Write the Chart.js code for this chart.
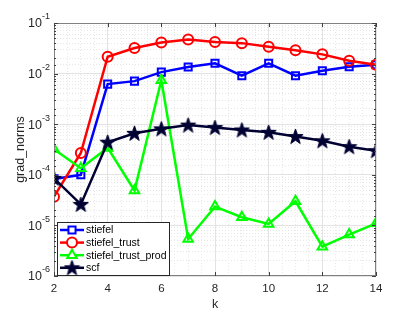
<!DOCTYPE html>
<html>
<head>
<meta charset="utf-8">
<script src="https://cdn.jsdelivr.net/npm/chart.js@4.4.0/dist/chart.umd.min.js"></script>
<style>
html,body{margin:0;padding:0;background:#fff;}
#wrap{width:415px;height:312px;}
</style>
</head>
<body>
<div id="wrap"><canvas id="myChart" width="415" height="312"></canvas></div>
<script>
// iteration k
var kValues=[2,3,4,5,6,7,8,9,10,11,12,13,14];
// grad norms
var stiefel=[8.3e-5,1.0e-4,6.2e-3,7.1e-3,1.07e-2,1.35e-2,1.6e-2,9.1e-3,1.6e-2,9.1e-3,1.14e-2,1.37e-2,1.5e-2];
var stiefelTrust=[3.7e-5,2.7e-4,2.15e-2,3.2e-2,4.1e-2,4.7e-2,4.2e-2,4.0e-2,3.4e-2,2.9e-2,2.4e-2,1.8e-2,1.5e-2];
var stiefelTrustProd=[3.2e-4,1.35e-4,3.4e-4,4.9e-5,7.4e-3,5.4e-6,2.35e-5,1.45e-5,1.07e-5,3.0e-5,3.8e-6,6.6e-6,1.1e-5];
var scf=[8.5e-5,2.6e-5,4.4e-4,6.6e-4,8.1e-4,9.6e-4,8.6e-4,7.7e-4,6.9e-4,5.7e-4,4.7e-4,3.6e-4,3.0e-4];
var seriesNames=['stiefel','stiefel_trust','stiefel_trust_prod','scf'];
var xTickLabels=['2','4','6','8','10','12','14'];
var yTickValues=[1e-6,1e-5,1e-4,1e-3,1e-2,1e-1];
var yTickExps=['-6','-5','-4','-3','-2','-1'];

var FONT='"Liberation Sans", Arial, sans-serif';
var navy='#000033';

function makeStar(){
  var c=document.createElement('canvas');
  c.width=17;c.height=17;
  var g=c.getContext('2d');
  var cx=8.5,cy=9,ro=8,ri=3.2;
  g.beginPath();
  for(var i=0;i<10;i++){
    var r=(i%2==0)?ro:ri;
    var a=-Math.PI/2+i*Math.PI/5;
    var px=cx+r*Math.cos(a),py=cy+r*Math.sin(a);
    if(i==0) g.moveTo(px,py); else g.lineTo(px,py);
  }
  g.closePath();
  g.fillStyle=navy;g.fill();
  g.lineWidth=1;g.strokeStyle=navy;g.stroke();
  return c;
}
var starImg=makeStar();

function isMajor(v){
  var l=Math.log10(v);
  return Math.abs(l-Math.round(l))<1e-6;
}

function ds(label,data,color,style,radius,order){
  return {
    label:label,
    data:data,
    borderColor:color,
    backgroundColor:'rgba(0,0,0,0)',
    borderWidth:2.5,
    pointStyle:style,
    pointRadius:radius,
    pointBorderWidth:2,
    pointBorderColor:color,
    pointBackgroundColor:'rgba(0,0,0,0)',
    tension:0,
    order:order
  };
}

var datasets=[
  ds(seriesNames[0],stiefel,'#0000ff','rect',5,4),
  ds(seriesNames[1],stiefelTrust,'#ff0000','circle',5,3),
  ds(seriesNames[2],stiefelTrustProd,'#00ff00','triangle',5.5,2),
  ds(seriesNames[3],scf,navy,starImg,8,1)
];

var framePlugin={
  id:'frame',
  afterDatasetsDraw:function(chart){
    var ctx=chart.ctx,a=chart.chartArea;
    var xs=chart.scales.x,ys=chart.scales.y;
    ctx.save();
    ctx.strokeStyle='#808080';
    ctx.lineWidth=1;
    ctx.strokeRect(Math.round(a.left)+0.5,Math.round(a.top)+0.5,Math.round(a.right-a.left)-1,Math.round(a.bottom-a.top)-1);
    // inward ticks
    ctx.strokeStyle='#404040';
    ctx.beginPath();
    for(var i=0;i<xTickLabels.length;i++){
      var px=Math.round(xs.getPixelForValue(Number(xTickLabels[i])))+0.5;
      ctx.moveTo(px,a.bottom);ctx.lineTo(px,a.bottom-4);
      ctx.moveTo(px,a.top);ctx.lineTo(px,a.top+4);
    }
    ys.ticks.forEach(function(t){
      var py=Math.round(ys.getPixelForValue(t.value))+0.5;
      var len=isMajor(t.value)?4:2;
      ctx.moveTo(a.left,py);ctx.lineTo(a.left+len,py);
      ctx.moveTo(a.right,py);ctx.lineTo(a.right-len,py);
    });
    ctx.stroke();
    // y tick labels 10^n
    ctx.fillStyle='#262626';
    ctx.textBaseline='middle';
    ctx.textAlign='right';
    yTickValues.forEach(function(v,i){
      var py=ys.getPixelForValue(v);
      ctx.font='9px '+FONT;
      var ew=ctx.measureText(yTickExps[i]).width;
      ctx.fillText(yTickExps[i],a.left-4,py-6);
      ctx.font='12.5px '+FONT;
      ctx.fillText('10',a.left-4-ew,py+1);
    });
    ctx.restore();
  },
  afterDraw:function(chart){
    var ctx=chart.ctx;
    var bx=57,by=222,bw=112,bh=53,rowH=12.6;
    ctx.save();
    ctx.fillStyle='#ffffff';
    ctx.fillRect(bx,by,bw,bh);
    ctx.strokeStyle='#262626';
    ctx.lineWidth=1;
    ctx.strokeRect(bx+0.5,by+0.5,bw,bh);
    ctx.textBaseline='middle';
    ctx.textAlign='left';
    chart.data.datasets.forEach(function(d,i){
      var y=by+8+i*rowH;
      ctx.strokeStyle=d.borderColor;
      ctx.lineWidth=2.5;
      ctx.beginPath();ctx.moveTo(bx+3,y);ctx.lineTo(bx+27,y);ctx.stroke();
      ctx.lineWidth=2;
      ctx.fillStyle='#ffffff';
      Chart.helpers.drawPoint(ctx,{pointStyle:d.pointStyle,radius:d.pointRadius,rotation:0,borderWidth:2},bx+15,y);
      ctx.fillStyle='#000000';
      ctx.font='10.5px '+FONT;
      ctx.fillText(d.label,bx+29,y+0.5);
    });
    ctx.restore();
  }
};

var graphTarget=document.getElementById('myChart');
var graph=new Chart(graphTarget,{
  type:'line',
  data:{labels:kValues,datasets:datasets},
  plugins:[framePlugin],
  options:{
    responsive:false,
    animation:false,
    layout:{padding:{left:0,right:39,top:23,bottom:0}},
    plugins:{legend:{display:false},tooltip:{enabled:false}},
    scales:{
      x:{
        type:'linear',min:2,max:14,
        grid:{
          color:function(c){return (c.tick&&Number.isInteger(c.tick.value)&&c.tick.value%2==0)?'#e3e3e3':'#e8e8e8';},
          lineWidth:1,drawTicks:false
        },
        border:{display:false,dash:function(c){return (c.tick&&Number.isInteger(c.tick.value)&&c.tick.value%2==0)?[]:[1,2];}},
        ticks:{
          stepSize:0.5,autoSkip:false,maxRotation:0,padding:6,color:'#262626',
          font:{family:FONT,size:11.5},
          callback:function(v){var s=String(v);return xTickLabels.indexOf(s)>=0?s:'';}
        },
        title:{display:true,text:'k',color:'#262626',font:{family:FONT,size:12.5},padding:{top:2,bottom:0}},
        afterFit:function(s){s.height=36;}
      },
      y:{
        type:'logarithmic',min:1e-6,max:1e-1,
        grid:{
          color:function(c){return (c.tick&&isMajor(c.tick.value))?'#e3e3e3':'#e6e6e6';},
          lineWidth:1,drawTicks:false
        },
        border:{display:false,dash:function(c){return (c.tick&&isMajor(c.tick.value))?[]:[1,2];}},
        ticks:{
          autoSkip:false,padding:0,
          callback:function(v){return '';}
        },
        title:{display:true,text:'grad_norms',color:'#262626',font:{family:FONT,size:12.5},padding:{top:13,bottom:0}},
        afterFit:function(s){s.width=54;}
      }
    }
  }
});
</script>
</body>
</html>
